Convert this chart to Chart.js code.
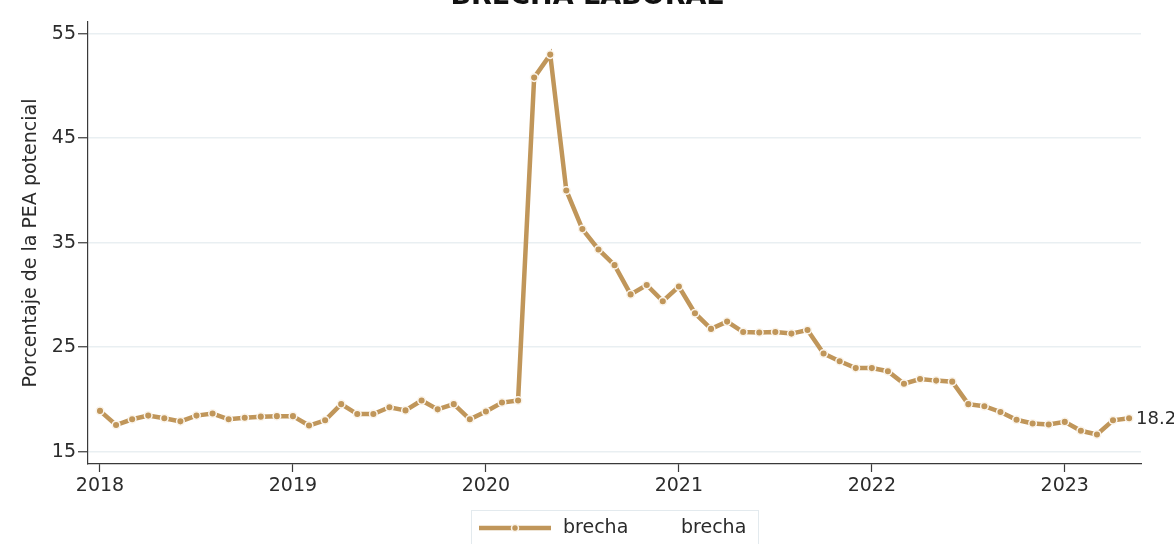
<!DOCTYPE html>
<html>
<head>
<meta charset="utf-8">
<script src="https://cdn.jsdelivr.net/npm/chart.js@4.4.1/dist/chart.umd.min.js"></script>
<style>
  html, body { margin: 0; padding: 0; background: #ffffff; }
  #wrap { position: relative; width: 1174px; height: 544px; }
</style>
</head>
<body>
<div id="wrap"><canvas id="c" width="1174" height="544"></canvas></div>
<script>
// ---- data ----
const chartTitle = 'BRECHA LABORAL';
const yAxisTitle = 'Porcentaje de la PEA potencial';
const seriesNames = ['brecha', 'brecha'];
const startYear = 2018;
const yearTicks = ['2018', '2019', '2020', '2021', '2022', '2023'];
const yTicks = [15, 25, 35, 45, 55];
// monthly values, Jan 2018 .. May 2023
const brecha = [
  18.9, 17.55, 18.1, 18.45, 18.2, 17.9, 18.45, 18.65, 18.1, 18.25, 18.35, 18.4,
  18.4, 17.5, 18.0, 19.55, 18.6, 18.6, 19.25, 18.95, 19.9, 19.05, 19.55, 18.1,
  18.85, 19.7, 19.9, 50.8, 53.0, 40.0, 36.3, 34.35, 32.85, 30.05, 30.95, 29.4,
  30.8, 28.25, 26.75, 27.45, 26.45, 26.4, 26.45, 26.3, 26.65, 24.4, 23.65, 23.0,
  23.0, 22.7, 21.5, 21.95, 21.8, 21.7, 19.55, 19.35, 18.8, 18.05, 17.7, 17.6,
  17.85, 17.0, 16.65, 18.0, 18.2
];

// ---- styles ----
const FONT = 'DejaVu Sans';
const LINE = '#c0965a';
const RIM = '#fbf5ec';
const TEXT = '#2b2b2b';
const AXIS = '#3a3a3a';
const GRID = '#e9eff2';

const points = brecha.map((v, i) => ({ x: i, y: v }));

const overlay = {
  id: 'overlay',
  afterDraw(chart) {
    const ctx = chart.ctx;
    ctx.save();
    // title (cut off at top like the reference)
    ctx.font = 'bold 27px "' + FONT + '"';
    ctx.fillStyle = '#111';
    ctx.textAlign = 'center';
    ctx.textBaseline = 'alphabetic';
    ctx.fillText(chartTitle, 587, 4);

    // last value label
    const meta = chart.getDatasetMeta(0);
    const last = meta.data[meta.data.length - 1];
    ctx.font = '18px "' + FONT + '"';
    ctx.fillStyle = TEXT;
    ctx.textAlign = 'left';
    ctx.textBaseline = 'middle';
    ctx.fillText(brecha[brecha.length - 1].toFixed(1), last.x + 7, last.y + 1);

    // legend
    ctx.strokeStyle = '#e3eaee';
    ctx.lineWidth = 1;
    ctx.strokeRect(471.5, 510.5, 287, 40);
    const ly = 528;
    ctx.strokeStyle = LINE;
    ctx.lineWidth = 4.5;
    ctx.beginPath();
    ctx.moveTo(479, ly);
    ctx.lineTo(551, ly);
    ctx.stroke();
    ctx.beginPath();
    ctx.arc(515, ly, 3.5, 0, Math.PI * 2);
    ctx.fillStyle = LINE;
    ctx.fill();
    ctx.lineWidth = 1.5;
    ctx.strokeStyle = RIM;
    ctx.stroke();
    ctx.font = '19px "' + FONT + '"';
    ctx.fillStyle = TEXT;
    ctx.textAlign = 'left';
    ctx.textBaseline = 'middle';
    ctx.fillText(seriesNames[0], 563, ly);
    ctx.fillText(seriesNames[1], 681, ly);
    ctx.restore();
  }
};

new Chart(document.getElementById('c'), {
  type: 'line',
  data: {
    datasets: [{
      label: seriesNames[0],
      data: points,
      borderColor: LINE,
      borderWidth: 4.5,
      backgroundColor: LINE,
      pointBackgroundColor: LINE,
      pointBorderColor: RIM,
      pointBorderWidth: 1.5,
      pointRadius: 3.8,
      tension: 0,
      clip: false
    }]
  },
  options: {
    responsive: false,
    animation: false,
    devicePixelRatio: 1,
    layout: { padding: { left: 0, top: 22, right: 33, bottom: 44 } },
    plugins: {
      legend: { display: false },
      title: { display: false },
      tooltip: { enabled: false }
    },
    scales: {
      x: {
        type: 'linear',
        min: -0.746,
        max: 64.74,
        afterBuildTicks(scale) {
          scale.ticks = yearTicks.map((t, i) => ({ value: i * 12 }));
        },
        afterFit(scale) { scale.height = 36; },
        border: { display: true, color: AXIS, width: 1.2 },
        grid: { drawOnChartArea: false, drawTicks: true, tickLength: 8, tickColor: AXIS, tickWidth: 1.2 },
        ticks: {
          autoSkip: false,
          maxRotation: 0,
          padding: 3,
          color: TEXT,
          font: { family: FONT, size: 19 },
          callback(v) { return yearTicks[Math.round(v / 12)]; }
        }
      },
      y: {
        type: 'linear',
        min: 13.82,
        max: 56.12,
        afterBuildTicks(scale) {
          scale.ticks = yTicks.map(v => ({ value: v }));
        },
        afterFit(scale) { scale.width = 88; },
        border: { display: true, color: AXIS, width: 1.2 },
        grid: { color: GRID, lineWidth: 1.5, drawTicks: true, tickLength: 10, tickColor: AXIS, tickWidth: 1.2 },
        ticks: {
          padding: 2,
          color: TEXT,
          font: { family: FONT, size: 19 },
          callback(v) { return String(v); }
        },
        title: {
          display: true,
          text: yAxisTitle,
          color: TEXT,
          font: { family: FONT, size: 19 },
          padding: { top: 20, bottom: 0 }
        }
      }
    }
  },
  plugins: [overlay]
});
</script>
</body>
</html>
